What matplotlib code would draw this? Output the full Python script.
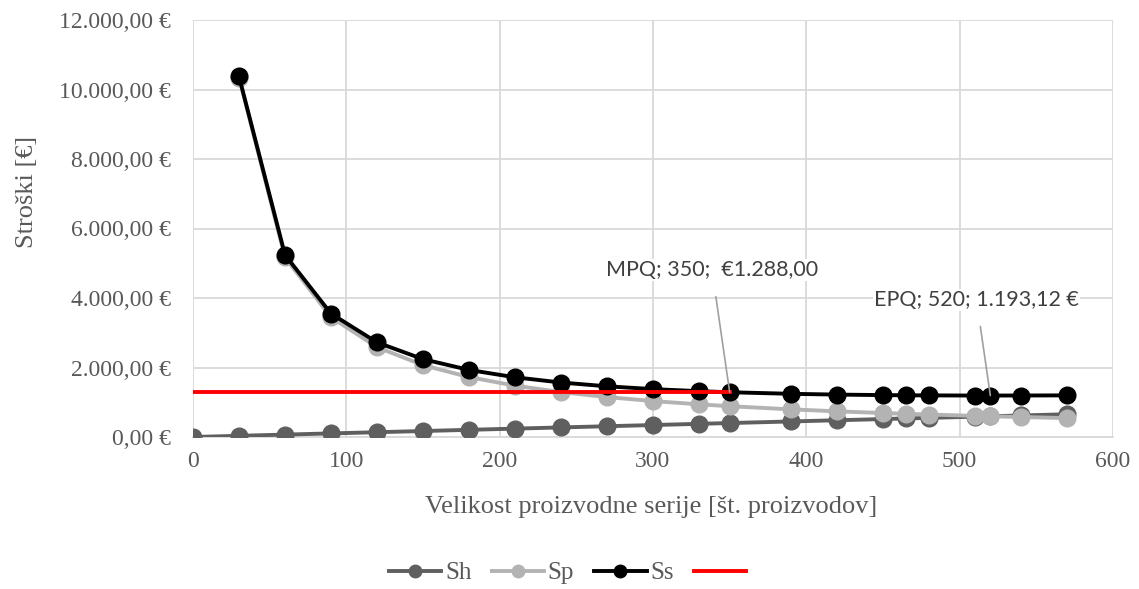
import numpy as np
import matplotlib.pyplot as plt
from matplotlib.ticker import FuncFormatter

# velikost serije
x = [0, 30, 60, 90, 120, 150, 180, 210, 240, 270, 300, 330, 350,
     390, 420, 450, 465, 480, 510, 520, 540, 570]
sh = [0.0, 34.42, 68.83, 103.25, 137.67, 172.08, 206.50, 240.92, 275.34,
      309.75, 344.17, 378.59, 401.53, 447.42, 481.84, 516.25, 533.46,
      550.67, 585.09, 596.56, 619.50, 653.92]
sp = [np.nan, 10340.4, 5170.2, 3446.8, 2585.1, 2068.1, 1723.4, 1477.2,
      1292.5, 1148.9, 1034.0, 940.0, 886.3, 795.4, 738.6, 689.4, 667.1,
      646.3, 608.3, 596.6, 574.5, 544.2]
ss = [np.nan, 10374.8, 5239.0, 3550.1, 2722.8, 2240.2, 1929.9, 1718.1,
      1567.8, 1458.7, 1378.2, 1318.6, 1288.0, 1242.8, 1220.4, 1205.7,
      1200.6, 1197.0, 1193.4, 1193.12, 1194.0, 1198.1]
mpq_x = [0, 350]
mpq_y = [1288.0, 1288.0]

grey = '#595959'
serif = 'Liberation Serif'

fig = plt.figure(figsize=(11.39, 5.89), dpi=100)
ax = fig.add_axes([193 / 1139, 1 - 437 / 589, 920 / 1139, 417 / 589])

l1, = ax.plot(x, sh, color='#5f5f5f', lw=2.8, marker='o', ms=12, zorder=3)
l2, = ax.plot(x, sp, color='#b3b3b3', lw=2.8, marker='o', ms=12, zorder=4)
l3, = ax.plot(x, ss, color='black', lw=2.8, marker='o', ms=12, zorder=5)
l4, = ax.plot(mpq_x, mpq_y, color='#ff0000', lw=2.8, zorder=6)

ax.set_xlim(0, 600)
ax.set_ylim(0, 12000)
ax.set_xticks(range(0, 601, 100))
ax.set_yticks(range(0, 12001, 2000))
ax.yaxis.set_major_formatter(FuncFormatter(
    lambda v, p: '{:,.2f}'.format(v).replace(',', 'X').replace('.', ',').replace('X', '.') + ' €'))
ax.grid(True, color='#d9d9d9', lw=1.3)
ax.set_axisbelow(True)
for s in ['top', 'right', 'left']:
    ax.spines[s].set_visible(False)
ax.spines['bottom'].set_color('#d9d9d9')
ax.spines['bottom'].set_linewidth(1.3)
ax.tick_params(length=0, colors=grey, labelsize=17)
ax.tick_params(axis='y', pad=16)
ax.tick_params(axis='x', pad=10)
for lab in ax.get_xticklabels() + ax.get_yticklabels():
    lab.set_family(serif)

ax.set_xlabel('Velikost proizvodne serije [št. proizvodov]', family=serif,
              fontsize=19, color=grey)
ax.set_ylabel('Stroški [€]', family=serif, fontsize=19, color=grey)
ax.xaxis.set_label_coords(0.498, -0.168)
ax.yaxis.set_label_coords(-0.18, 0.588)
ax.xaxis.label.set_va('center')
ax.yaxis.label.set_va('center')

ax.annotate('MPQ; 350;  €1.288,00', xy=(350, 1288), xytext=(338.5, 4800),
            ha='center', va='center', fontsize=15.5, color='#404040', family='Lato',
            arrowprops=dict(arrowstyle='-', color='#a0a0a0', lw=1.2, shrinkA=11, shrinkB=0),
            bbox=dict(fc='white', ec='none', pad=1), zorder=7)
ax.annotate('EPQ; 520; 1.193,12 €', xy=(520, 1193.12), xytext=(511, 3940),
            ha='center', va='center', fontsize=15.5, color='#404040', family='Lato',
            arrowprops=dict(arrowstyle='-', color='#a0a0a0', lw=1.2, shrinkA=11, shrinkB=0),
            bbox=dict(fc='white', ec='none', pad=1), zorder=7)

leg = fig.legend([l1, l2, l3, l4], ['Sh', 'Sp', 'Ss', ''], loc='center',
                 bbox_to_anchor=(0.5, 1 - 573 / 589), ncol=4, frameon=False,
                 handlelength=2.1, columnspacing=0.8, handletextpad=0.15,
                 markerscale=0.75, prop={'family': serif, 'size': 18})
for t in leg.get_texts():
    t.set_color(grey)

fig.savefig('out.png', dpi=100)
